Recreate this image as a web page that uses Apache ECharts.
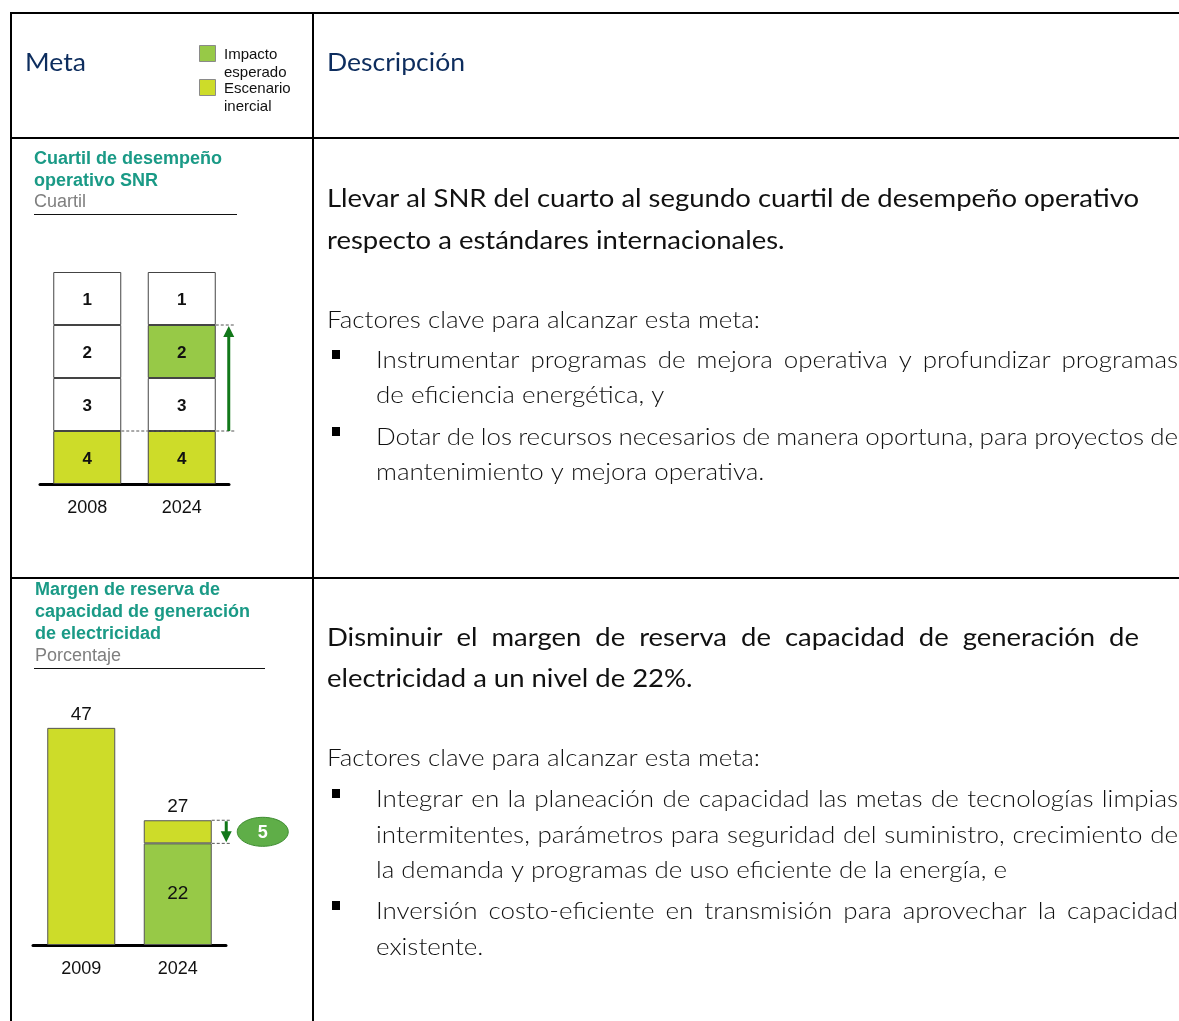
<!DOCTYPE html>
<html><head><meta charset="utf-8">
<script src="https://cdn.jsdelivr.net/npm/echarts@6/dist/echarts.min.js"></script>
<style>html,body{margin:0;padding:0;background:#fff}#c{width:1179px;height:1021px}</style>
</head><body><div id="c"></div>
<script>
// ---------- data ----------
const legendNames = ['Impacto esperado', 'Escenario inercial'];
const headerTexts = ['Meta', 'Descripción'];

const chart1Title = ['Cuartil de desempeño', 'operativo SNR'];
const chart1Unit = 'Cuartil';
const quartileYears = ['2008', '2024'];
const quartileLevels = [4, 3, 2, 1];          // bottom to top
const quartileInercial = [4, 4];
const quartileEsperado = [null, 2];

const chart2Title = ['Margen de reserva de', 'capacidad de generación', 'de electricidad'];
const chart2Unit = 'Porcentaje';
const reserveYears = ['2009', '2024'];
const reserveInercial = [47, 27];
const reserveEsperado = [null, 22];

const desc1Heading = ['Llevar al SNR del cuarto al segundo cuartil de desempeño operativo', 'respecto a estándares internacionales.'];
const desc1Intro = 'Factores clave para alcanzar esta meta:';
const desc1Bullets = [
  ['Instrumentar programas de mejora operativa y profundizar programas', 'de eficiencia energética, y'],
  ['Dotar de los recursos necesarios de manera oportuna, para proyectos de', 'mantenimiento y mejora operativa.']
];
const desc2Heading = ['Disminuir el margen de reserva de capacidad de generación de', 'electricidad a un nivel de 22%.'];
const desc2Intro = 'Factores clave para alcanzar esta meta:';
const desc2Bullets = [
  ['Integrar en la planeación de capacidad las metas de tecnologías limpias', 'intermitentes, parámetros para seguridad del suministro, crecimiento de', 'la demanda y programas de uso eficiente de la energía, e'],
  ['Inversión costo-eficiente en transmisión para aprovechar la capacidad', 'existente.']
];

// ---------- styles ----------
const C_GREEN = '#97c947', C_YELLOW = '#cddc29', C_TEAL = '#1a9a86', C_NAVY = '#0d2d5e';
const C_ARROW = '#12781a';
const SANS = '"Liberation Sans", Arial, sans-serif';
const HUM = 'Lato, "Open Sans", sans-serif';

const mctx = document.createElement('canvas').getContext('2d');
function measure(t, w, s, f) { mctx.font = w + ' ' + s + 'px ' + f; return mctx.measureText(t).width; }

const HEAD = {w: 400, s: 25, f: HUM, fill: '#111', dy: 0.5};
const BODY = {w: 300, s: 23, f: HUM, fill: '#111', dy: -0.5};
HEAD.k = 812 / measure(desc1Heading[0], HEAD.w, HEAD.s, HEAD.f);
BODY.k = 433 / measure(desc1Intro, BODY.w, BODY.s, BODY.f);

const G = [];
function txt(str, x, y, F, k) {
  G.push({type: 'text', x: x, y: y, scaleX: k || 1, silent: true,
    style: {text: str, x: 0, y: 0, fill: F.fill, fontSize: F.s, fontWeight: F.w, fontFamily: F.f, verticalAlign: 'middle', align: 'left'}});
}
function line(str, x0, center, F, xRight) {
  const y = center + (F.dy || 0);
  if (!xRight) { txt(str, x0, y, F, F.k); return; }
  const words = str.split(' ');
  const ws = words.map(w => measure(w, F.w, F.s, F.f) * F.k);
  const tot = ws.reduce((a, b) => a + b, 0);
  const gap = (xRight - x0 - tot) / (words.length - 1);
  let x = x0;
  words.forEach((w, i) => { txt(w, x, y, F, F.k); x += ws[i] + gap; });
}
function hline(x1, y, x2, w, c, dash) { G.push({type: 'line', silent: true, shape: {x1: x1, y1: y, x2: x2, y2: y}, style: {stroke: c || '#000', lineWidth: w || 1, lineDash: dash}}); }
function vline(x, y1, y2, w) { G.push({type: 'line', silent: true, shape: {x1: x, y1: y1, x2: x, y2: y2}, style: {stroke: '#000', lineWidth: w}}); }

// table frame
hline(10, 13, 1179, 2); hline(10, 138, 1179, 2); hline(10, 578, 1179, 2);
vline(11, 12, 1021, 2); vline(313, 12, 1021, 2);

// header
const NAV = {w: 400, s: 25, f: HUM, fill: C_NAVY, dy: -1};
NAV.k = 138 / measure(headerTexts[1], NAV.w, NAV.s, NAV.f);
line(headerTexts[0], 25, 64, NAV); line(headerTexts[1], 327, 64, NAV);

// legend
[C_GREEN, C_YELLOW].forEach((col, i) => {
  const top = 45 + i * 34;
  G.push({type: 'rect', silent: true, shape: {x: 199.5, y: top + 0.5, width: 16, height: 16}, style: {fill: col, stroke: '#8a8a8a', lineWidth: 1}});
  legendNames[i].split(' ').forEach((w, j) => txt(w, 224, top + 9.5 + j * 18, {w: 400, s: 15, f: SANS, fill: '#111'}));
});

// left titles
const TT = {w: 700, s: 18, f: SANS, fill: C_TEAL}, TU = {w: 400, s: 18, f: SANS, fill: '#7f7f7f'};
chart1Title.forEach((t, i) => txt(t, 34, 159.5 + i * 22, TT));
txt(chart1Unit, 34, 202.5, TU); hline(34, 214.5, 237, 1.2, '#111');
chart2Title.forEach((t, i) => txt(t, 35, 590.5 + i * 22, TT));
txt(chart2Unit, 35, 656.5, TU); hline(34, 668.5, 265, 1.2, '#111');

// right column text
function block(heading, hC, intro, iC, bullets, bC) {
  heading.forEach((t, i) => line(t, 327, hC[i], HEAD, i < heading.length - 1 ? 1139 : null));
  line(intro, 327, iC, BODY);
  let n = 0;
  bullets.forEach(b => {
    G.push({type: 'rect', silent: true, shape: {x: 332, y: bC[n] - 11, width: 8, height: 9}, style: {fill: '#000'}});
    b.forEach((t, i) => { line(t, 376, bC[n], BODY, i < b.length - 1 ? 1178 : null); n++; });
  });
}
block(desc1Heading, [198, 240], desc1Intro, 321, desc1Bullets, [361, 396, 438, 473]);
block(desc2Heading, [637, 678], desc2Intro, 759, desc2Bullets, [800, 836, 871, 912, 948]);

// ---------- charts ----------
const quartSeries = quartileLevels.map(q => ({
  type: 'bar', stack: 'q', xAxisIndex: 0, yAxisIndex: 0, barWidth: 68,
  data: quartileYears.map((y, i) => ({
    value: 1,
    itemStyle: {color: quartileInercial[i] === q ? C_YELLOW : (quartileEsperado[i] === q ? C_GREEN : '#ffffff'), borderColor: '#444', borderWidth: 1}
  })),
  label: {show: true, position: 'inside', formatter: String(q), color: '#111', fontWeight: 'bold', fontSize: 17, fontFamily: SANS, offset: [0, 2]},
  z: 2
}));

const annot1 = {
  type: 'custom', xAxisIndex: 1, yAxisIndex: 0, clip: false, z: 5, silent: true,
  data: [[0]],
  renderItem: function (params, api) {
    const lowY = 5 - quartileInercial[1], highY = 5 - quartileEsperado[1];
    const pL = api.coord([0.5, lowY]), pR = api.coord([1.5, lowY]), pT = api.coord([1.5, highY]);
    const hw = 34, ax = pR[0] + 47;
    const ds = {stroke: '#555', lineWidth: 1, lineDash: [3, 2]};
    return {type: 'group', children: [
      {type: 'line', shape: {x1: pL[0] + hw, y1: pL[1], x2: pR[0] + hw + 19, y2: pL[1]}, style: ds},
      {type: 'line', shape: {x1: pR[0] + hw, y1: pT[1], x2: pR[0] + hw + 19, y2: pT[1]}, style: ds},
      {type: 'line', shape: {x1: ax, y1: pL[1], x2: ax, y2: pT[1] + 10}, style: {stroke: C_ARROW, lineWidth: 3}},
      {type: 'polygon', shape: {points: [[ax - 5.5, pT[1] + 12], [ax + 5.5, pT[1] + 12], [ax, pT[1] + 1]]}, style: {fill: C_ARROW}}
    ]};
  }
};

const annot2 = {
  type: 'custom', xAxisIndex: 3, yAxisIndex: 1, clip: false, z: 5, silent: true,
  data: [[0]],
  renderItem: function (params, api) {
    const hi = reserveInercial[1], lo = reserveEsperado[1];
    const pT = api.coord([1.5, hi]), pB = api.coord([1.5, lo]);
    const hw = 34, ax = pT[0] + 48.5;
    const ds = {stroke: '#555', lineWidth: 1, lineDash: [3, 2]};
    const cy = (pT[1] + pB[1]) / 2, cx = pT[0] + 85;
    return {type: 'group', children: [
      {type: 'line', shape: {x1: pT[0] + hw, y1: pT[1], x2: pT[0] + hw + 20, y2: pT[1]}, style: ds},
      {type: 'line', shape: {x1: pB[0] + hw, y1: pB[1], x2: pB[0] + hw + 20, y2: pB[1]}, style: ds},
      {type: 'line', shape: {x1: ax, y1: pT[1] + 1, x2: ax, y2: pB[1] - 10}, style: {stroke: C_ARROW, lineWidth: 3}},
      {type: 'polygon', shape: {points: [[ax - 5.5, pB[1] - 12], [ax + 5.5, pB[1] - 12], [ax, pB[1] - 1]]}, style: {fill: C_ARROW}},
      {type: 'ellipse', shape: {cx: cx, cy: cy, rx: 25.5, ry: 14.5}, style: {fill: '#5fae48', stroke: '#3d8c30', lineWidth: 1}},
      {type: 'text', x: cx, y: cy + 1, style: {text: String(hi - lo), fill: '#fff', fontSize: 18, fontWeight: 'bold', fontFamily: SANS, align: 'center', verticalAlign: 'middle'}}
    ]};
  }
};

const reserveSeries = [
  {
    name: legendNames[0], type: 'bar', stack: 'r', xAxisIndex: 2, yAxisIndex: 1, barWidth: 68,
    data: reserveEsperado.map(v => v == null ? '-' : v),
    itemStyle: {color: C_GREEN, borderColor: '#555', borderWidth: 1},
    label: {show: true, position: 'inside', color: '#111', fontSize: 19, fontFamily: SANS}
  },
  {
    name: legendNames[1], type: 'bar', stack: 'r', xAxisIndex: 2, yAxisIndex: 1, barWidth: 68,
    data: reserveInercial.map((v, i) => v - (reserveEsperado[i] || 0)),
    itemStyle: {color: C_YELLOW, borderColor: '#555', borderWidth: 1},
    label: {show: true, position: 'top', distance: 4, color: '#111', fontSize: 19, fontFamily: SANS,
      formatter: p => String(reserveInercial[p.dataIndex])}
  }
];

const catAxis = (grid, cats) => ({
  type: 'category', gridIndex: grid, data: cats,
  axisLine: {show: true, lineStyle: {color: '#000', width: 3}}, axisTick: {show: false},
  axisLabel: {color: '#111', fontSize: 18, fontFamily: SANS, margin: 15}
});
const hidVal = (grid, min, max) => ({type: 'value', gridIndex: grid, min: min, max: max, show: false});

const chart = echarts.init(document.getElementById('c'), null, {renderer: 'canvas'});
chart.setOption({
  animation: false,
  backgroundColor: '#fff',
  grid: [
    {left: 40, top: 272, width: 189, height: 212},
    {left: 33, top: 714, width: 193, height: 231}
  ],
  xAxis: [catAxis(0, quartileYears), hidVal(0, 0, 2), catAxis(1, reserveYears), hidVal(1, 0, 2)],
  yAxis: [
    {type: 'value', gridIndex: 0, min: 0, max: 4, show: false},
    {type: 'value', gridIndex: 1, min: 0, max: 50, show: false}
  ],
  series: quartSeries.concat([annot1]).concat(reserveSeries).concat([annot2]),
  graphic: G
});
</script></body></html>
